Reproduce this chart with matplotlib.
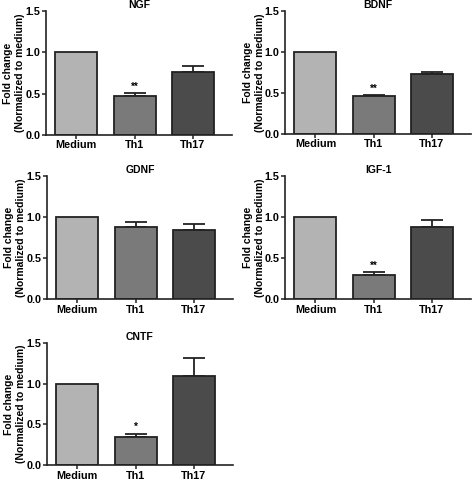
import matplotlib
matplotlib.use("Agg")
import matplotlib.pyplot as plt

plt.rcParams["font.family"] = ["Liberation Sans", "DejaVu Sans"]
plt.rcParams["font.weight"] = "bold"

groups = ["Medium", "Th1", "Th17"]
colors = ["#b3b3b3", "#7a7a7a", "#4b4b4b"]

panel_names = ["NGF", "BDNF", "GDNF", "IGF-1", "CNTF"]
means = {
    "NGF": [1.0, 0.47, 0.76],
    "BDNF": [1.0, 0.46, 0.73],
    "GDNF": [1.0, 0.88, 0.84],
    "IGF-1": [1.0, 0.29, 0.88],
    "CNTF": [1.0, 0.35, 1.10],
}
errors = {
    "NGF": [0.0, 0.035, 0.07],
    "BDNF": [0.0, 0.015, 0.025],
    "GDNF": [0.0, 0.06, 0.07],
    "IGF-1": [0.0, 0.035, 0.08],
    "CNTF": [0.0, 0.035, 0.22],
}
stars = {
    "NGF": ["", "**", ""],
    "BDNF": ["", "**", ""],
    "GDNF": ["", "", ""],
    "IGF-1": ["", "**", ""],
    "CNTF": ["", "*", ""],
}

# axes boxes in figure fraction [left, bottom, width, height]
boxes = [
    [0.0975, 0.719, 0.394, 0.258],
    [0.604, 0.721, 0.394, 0.256],
    [0.0995, 0.377, 0.394, 0.256],
    [0.604, 0.377, 0.394, 0.256],
    [0.0995, 0.031, 0.394, 0.254],
]

fig = plt.figure(figsize=(4.72, 4.8), dpi=100)

for name, box in zip(panel_names, boxes):
    ax = fig.add_axes(box)
    x = range(len(groups))
    vals = means[name]
    errs = errors[name]
    ax.bar(x, vals, width=0.72, color=colors, edgecolor="#222222", linewidth=1.3, zorder=2)
    for i in x:
        if errs[i] > 0:
            ax.errorbar(i, vals[i], yerr=[[0], [errs[i]]], fmt="none", ecolor="#222222",
                        elinewidth=1.3, capsize=8, capthick=1.3, zorder=1)
        if stars[name][i]:
            ax.text(i, vals[i] + errs[i] + 0.02, stars[name][i], ha="center", va="bottom",
                    fontsize=7, fontweight="bold")
    ax.set_ylim(0, 1.5)
    ax.set_xlim(-0.52, 2.67)
    ax.set_yticks([0.0, 0.5, 1.0, 1.5])
    ax.set_yticklabels(["0.0", "0.5", "1.0", "1.5"])
    ax.set_xticks(list(x))
    ax.set_xticklabels(groups)
    ax.tick_params(labelsize=7.8, length=3, width=1.1, color="#222222", pad=1)
    for lab in ax.get_xticklabels() + ax.get_yticklabels():
        lab.set_fontweight("bold")
    for s in ["top", "right"]:
        ax.spines[s].set_visible(False)
    for s in ["left", "bottom"]:
        ax.spines[s].set_linewidth(1.2)
        ax.spines[s].set_color("#222222")
    ax.set_title(name, fontsize=7.5, fontweight="bold", pad=2)
    ax.set_ylabel("Fold change\n(Normalized to medium)", fontsize=7.5, fontweight="bold",
                  labelpad=0, linespacing=1.25)

fig.savefig("out.png", dpi=100)
